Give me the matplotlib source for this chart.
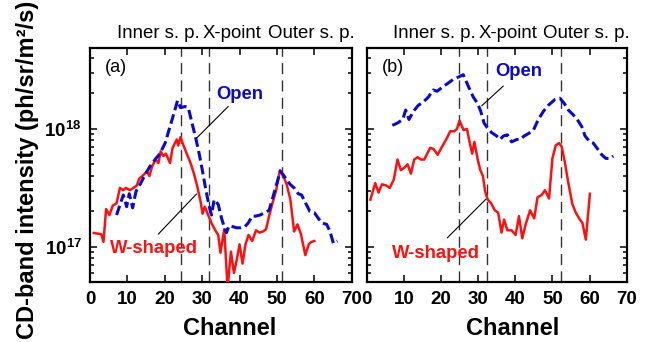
import matplotlib
matplotlib.use("Agg")
import matplotlib.pyplot as plt
from matplotlib.ticker import LogLocator, NullFormatter

plt.rcParams["font.family"] = ["Liberation Sans", "DejaVu Sans"]
plt.rcParams["font.weight"] = "bold"
plt.rcParams["mathtext.fontset"] = "custom"
plt.rcParams["mathtext.rm"] = "Liberation Sans"
plt.rcParams["mathtext.bf"] = "Liberation Sans:bold"

# intensities in units of 1e17 ph/sr/m2/s
UNIT = 1e17

# (a) W-shaped
ch_w_a = [1.0, 3.0, 3.6, 4.3, 5.2, 6.1, 7.1, 8.0, 8.9, 9.6, 10.7, 11.6, 12.5, 13.2,
          14.3, 15.2, 15.9, 16.6, 17.5, 18.3, 18.9, 19.6, 20.3, 21.4, 22.1, 23.2,
          23.6, 24.2, 25.0, 26.0, 26.9, 27.8, 28.7, 29.6, 30.1, 30.7, 31.6, 32.5,
          33.5, 34.3, 34.9, 35.9, 36.8, 37.7, 38.5, 39.2, 40.0, 40.8, 41.6, 42.4,
          43.4, 44.4, 45.3, 46.3, 47.1, 47.9, 48.8, 49.8, 50.8, 51.6, 52.6, 53.6,
          54.6, 55.5, 56.4, 57.6, 58.5, 59.2, 60.0]
w_a = [1.31, 1.28, 1.10, 2.09, 1.86, 2.24, 2.34, 3.16, 3.02, 3.16, 3.02, 3.16, 3.31,
       3.80, 4.07, 4.37, 3.98, 4.79, 5.50, 5.13, 6.46, 5.89, 6.17, 5.13, 6.92, 8.13,
       7.24, 8.51, 7.24, 6.03, 5.13, 4.17, 3.24, 2.40, 1.91, 2.19, 1.86, 1.59, 1.38,
       1.26, 0.89, 1.41, 0.45, 0.91, 0.60, 0.76, 1.05, 0.72, 1.05, 1.26, 1.12, 1.38,
       1.32, 1.35, 1.41, 1.82, 2.34, 3.02, 4.47, 4.07, 3.39, 2.51, 1.35, 1.55, 1.29,
       0.85, 1.05, 1.10, 1.12]

# (a) Open
ch_o_a = [7.1, 8.9, 9.8, 10.5, 11.4, 12.3, 13.4, 14.7, 16.0, 17.4, 18.7, 20.1, 21.4,
          22.7, 23.4, 24.2, 25.4, 26.3, 27.2, 28.3, 29.2, 30.1, 31.0, 31.9, 32.5,
          33.2, 34.3, 35.2, 35.9, 36.5, 37.2, 38.3, 39.2, 40.4, 41.4, 42.3, 43.4,
          44.3, 45.5, 46.8, 47.9, 49.0, 49.9, 50.9, 51.7, 52.6, 53.5, 54.6, 55.7,
          56.6, 57.7, 58.8, 60.0, 61.1, 62.1, 63.3, 64.2, 65.1, 66.2]
o_a = [1.86, 2.75, 2.19, 2.82, 2.14, 2.95, 3.39, 4.07, 4.79, 5.50, 6.17, 7.59, 10.47,
       14.45, 17.38, 15.14, 15.49, 15.14, 11.48, 8.32, 6.17, 4.37, 3.02, 2.19, 1.86,
       2.51, 2.29, 1.74, 1.48, 1.32, 1.51, 1.48, 1.45, 1.45, 1.48, 1.59, 1.82, 1.82,
       1.86, 1.95, 2.04, 2.69, 3.39, 4.37, 4.07, 3.72, 3.39, 3.16, 2.82, 2.75, 2.34,
       2.00, 1.95, 1.74, 1.59, 1.55, 1.35, 1.07, 1.12]

# (b) W-shaped
ch_w_b = [1.0, 2.3, 3.2, 4.1, 5.3, 6.2, 7.3, 8.3, 9.2, 10.1, 11.0, 11.9, 12.8, 13.7,
          14.6, 15.5, 17.1, 18.0, 19.1, 20.3, 21.4, 22.5, 23.6, 24.3, 25.0, 26.1,
          27.0, 27.7, 28.4, 29.0, 29.9, 30.6, 31.3, 31.9, 32.6, 33.5, 34.5, 35.4,
          36.3, 37.0, 37.9, 39.0, 40.1, 41.0, 41.9, 42.8, 44.0, 45.1, 46.0, 47.1,
          48.0, 49.1, 50.0, 50.9, 51.8, 52.5, 53.4, 54.3, 55.4, 56.3, 57.2, 58.1,
          59.0, 60.1]
w_b = [2.51, 3.47, 2.88, 3.39, 3.31, 3.16, 3.72, 5.50, 4.47, 4.68, 5.01, 4.17, 5.50,
       5.75, 5.50, 5.50, 6.92, 6.76, 6.03, 7.08, 8.13, 9.55, 9.55, 10.0, 11.75, 9.77,
       10.0, 7.76, 6.17, 7.76, 5.50, 4.47, 3.98, 2.95, 2.51, 2.34, 2.04, 1.95, 1.32,
       1.70, 1.38, 1.38, 1.26, 1.82, 1.18, 1.55, 2.04, 1.74, 2.63, 2.75, 3.02, 2.57,
       5.62, 7.24, 7.59, 7.08, 5.13, 3.47, 2.29, 1.95, 1.74, 1.59, 1.15, 2.82]

# (b) Open
ch_o_b = [6.9, 8.3, 9.7, 10.5, 11.4, 12.6, 13.9, 15.3, 16.6, 17.9, 19.0, 20.6, 22.0,
          23.3, 24.7, 26.0, 27.4, 28.7, 29.8, 30.7, 31.6, 32.5, 33.6, 35.0, 35.9,
          36.8, 37.9, 39.0, 40.4, 41.3, 42.4, 43.5, 44.9, 46.2, 47.6, 48.9, 50.7,
          52.0, 53.1, 54.3, 55.6, 56.7, 57.9, 58.8, 60.1, 61.0, 62.4, 63.3, 64.4,
          65.5, 66.4]
o_b = [10.72, 11.22, 12.02, 14.45, 12.02, 14.13, 15.85, 16.98, 18.62, 21.38, 20.89,
       22.91, 24.55, 26.30, 27.54, 28.84, 22.91, 18.62, 16.60, 14.13, 11.22, 10.23,
       9.33, 8.71, 8.13, 8.71, 8.91, 7.76, 8.13, 8.13, 8.71, 9.12, 9.77, 12.02, 14.13,
       15.85, 17.78, 18.20, 16.60, 14.45, 13.18, 12.02, 10.47, 8.71, 7.76, 7.59, 6.61,
       6.03, 5.62, 5.62, 5.89]

# strike-point / X-point channels
marks_a = [24.3, 31.8, 51.4]
marks_b = [24.9, 32.4, 52.4]

top_labels = ["Inner s. p.", "X-point", "Outer s. p."]
top_label_x = [7.1, 30.2, 47.5]

fig = plt.figure(figsize=(6.49, 3.42), dpi=100)
ax1 = fig.add_axes([0.1387, 0.1746, 0.4032, 0.6842])
ax2 = fig.add_axes([0.5650, 0.1746, 0.4006, 0.6842])

panels = [
    (ax1, ch_w_a, w_a, ch_o_a, o_a, marks_a, "(a)",
     (33.9, 19.4), (36.97, 15.5), (28.5, 8.35),
     (5.35, 0.97), (18.26, 1.28), (28.5, 2.81)),
    (ax2, ch_w_b, w_b, ch_o_b, o_b, marks_b, "(b)",
     (34.5, 30.7), (36.78, 23.1), (30.96, 15.7),
     (6.73, 0.88), (21.7, 1.19), (32.12, 2.54)),
]

for (ax, cw, w, co, o, marks, tag, open_txt, open_from, open_to,
     w_txt, w_from, w_to) in panels:
    ax.set_yscale("log")
    ax.plot(cw, [v * UNIT for v in w], color="#ff1010", lw=1.8, zorder=3)
    ax.plot(co, [v * UNIT for v in o], color="#0a0acc", lw=2.2,
            dashes=(3.2, 1.4), zorder=3)
    for m in marks:
        ax.axvline(m, color="#333333", lw=1.0, dashes=(8, 4.5), zorder=2)

    ax.set_xlim(0, 70)
    ax.set_ylim(0.5 * UNIT, 48.3 * UNIT)
    ax.set_xticks(range(0, 71, 10))
    ax.set_yticks([1e17, 1e18])
    ax.yaxis.set_minor_locator(LogLocator(base=10, subs=range(2, 10)))
    ax.yaxis.set_minor_formatter(NullFormatter())
    ax.tick_params(which="both", direction="in", top=True, right=True,
                   width=1.1, labelsize=13.5)
    ax.tick_params(which="major", length=5, pad=6)
    ax.tick_params(which="minor", length=3)
    for sp in ax.spines.values():
        sp.set_linewidth(1.6)

    ax.text(0.057, 0.918, tag, transform=ax.transAxes, fontsize=13,
            fontweight="normal", va="center")
    for lab, lx in zip(top_labels, top_label_x):
        ax.text(lx, 1.043, lab, transform=ax.get_xaxis_transform(),
                fontsize=13.4, fontweight="normal", va="baseline")

    ax.text(open_txt[0], open_txt[1] * UNIT, "Open", color="#0a0acc",
            fontsize=13.3, va="center")
    ax.text(w_txt[0], w_txt[1] * UNIT, "W-shaped", color="#ff1010",
            fontsize=13.3, va="center")
    ax.annotate("", xy=(open_to[0], open_to[1] * UNIT),
                xytext=(open_from[0], open_from[1] * UNIT),
                arrowprops=dict(arrowstyle="-", color="black", lw=0.8,
                                shrinkA=0, shrinkB=0))
    ax.annotate("", xy=(w_to[0], w_to[1] * UNIT),
                xytext=(w_from[0], w_from[1] * UNIT),
                arrowprops=dict(arrowstyle="-", color="black", lw=0.8,
                                shrinkA=0, shrinkB=0))

ax1.set_yticklabels([r"$\mathbf{10^{17}}$", r"$\mathbf{10^{18}}$"])
ax2.set_yticklabels([])

fig.text(230 / 649, 0.0205, "Channel", fontsize=17, ha="center", va="baseline")
fig.text(512.7 / 649, 0.0205, "Channel", fontsize=17, ha="center", va="baseline")
fig.text(28 / 649, 0.503, "CD-band intensity (ph/sr/m²/s)", fontsize=17,
         rotation=90, ha="center", va="center")

fig.savefig("out.png", dpi=100)
